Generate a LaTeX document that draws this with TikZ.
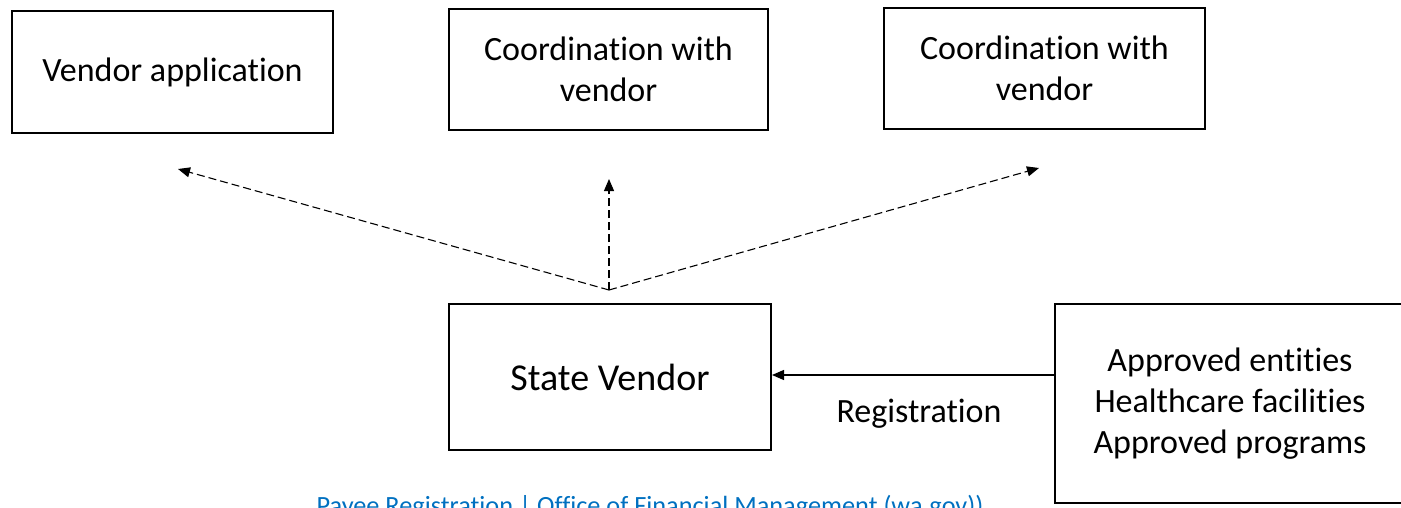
\documentclass[tikz,border=0pt]{standalone}
\usepackage{fontspec}
\setmainfont[Ligatures = {NoCommon, NoContextual}]{Carlito}
\usetikzlibrary{positioning}
\usetikzlibrary{calc}
\usetikzlibrary{arrows.meta}

\definecolor{linkblue}{RGB}{0,112,192}

\begin{document}
\begin{tikzpicture}
  [x = 1pt, y = -1pt,
   box/.style = {draw, line width = 2pt, align = center, inner sep = 0pt,
                 font = \fontsize{34}{41}\selectfont},
   pointer/.style = {dash pattern = on 8pt off 4pt, line width = 1.1pt,
                     -{Triangle[length = 12pt, width = 10pt]}},
   feed/.style = {line width = 1.3pt, -{Triangle[length = 12pt, width = 10pt]}}]
  \clip (0, 0) rectangle (1401, 507);

  \node [box, minimum width = 321pt, minimum height = 122pt] (apply) at (172.5, 72) {Vendor application};
  \node [box, minimum width = 319pt, minimum height = 121pt] (coordmid) at (608.5, 69.5) {Coordination with\\vendor};
  \node [box, minimum width = 321pt, minimum height = 121pt] (coordright) at (1044.5, 68.5) {Coordination with\\vendor};

  \node [box, minimum width = 322pt, minimum height = 146pt,
         font = \fontsize{38}{46}\selectfont] (vendor) at (610, 377) {State Vendor};
  \node [box, minimum width = 350pt, minimum height = 199pt] (sources) at (1230, 403.5)
    {Approved entities\\Healthcare facilities\\Approved programs};

  \coordinate (hub) at (609, 290);
  \coordinate (tipapply) at (178, 169);
  \coordinate (tipmid) at (609, 179);
  \coordinate (tipright) at (1039, 168);
  \coordinate (regstart) at (1055, 375);

  \draw [pointer] (hub) -- (tipapply);
  \draw [pointer] (hub) -- (tipmid);
  \draw [pointer] (hub) -- (tipright);

  \draw [feed] (regstart) -- (regstart -| vendor.east);
  \node [anchor = base, font = \fontsize{34}{41}\selectfont] (reglabel) at (919, 422) {Registration};

  \node [anchor = base, text = linkblue, font = \fontsize{26.3}{32}\selectfont] (link) at (650, 514)
    {Payee Registration | Office of Financial Management (wa.gov))};
\end{tikzpicture}
\end{document}
